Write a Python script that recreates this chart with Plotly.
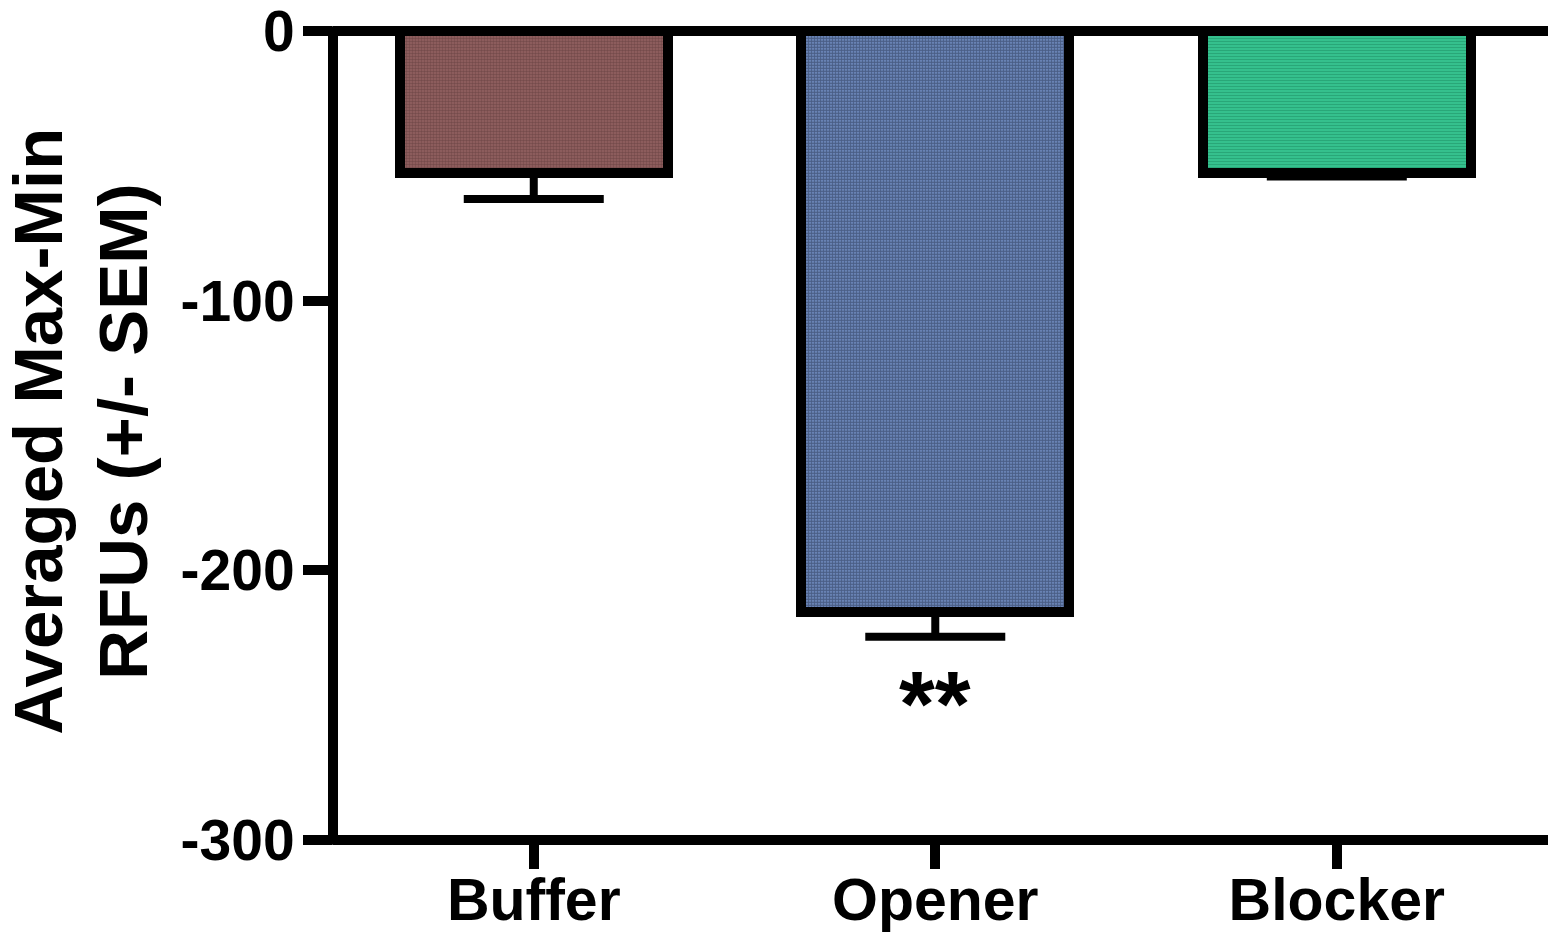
import plotly.graph_objects as go

# Group means and SEM
categories = ["Buffer", "Opener", "Blocker"]
means = [-52.5, -215.4, -52.5]
sem = [9.8, 9.2, 1.5]
significance = ["", "**", ""]

y_ticks = [0, -100, -200, -300]

FONT = "Liberation Sans, Arial, Helvetica, sans-serif"

fill_bg = ["#946262", "#7c9ad2", "#38c893"]
fill_fg = ["#553334", "#18213a", "#1a855d"]
fill_shape = [".", ".", "-"]
fill_solidity = [0.55, 0.72, 0.5]

fig = go.Figure()

for i, cat in enumerate(categories):
    fig.add_trace(go.Bar(
        x=[i],
        y=[means[i]],
        width=0.667,
        marker=dict(
            color=fill_bg[i],
            line=dict(color="black", width=10),
            pattern=dict(shape=fill_shape[i], fgcolor=fill_fg[i],
                         size=3, solidity=fill_solidity[i]),
        ),
        error_y=dict(type="data", symmetric=False,
                     array=[0], arrayminus=[sem[i]],
                     color="black", thickness=8, width=70),
        showlegend=False,
    ))

# Significance markers under the error bars
for i, s in enumerate(significance):
    if s:
        fig.add_annotation(x=i, y=means[i] - sem[i] - 25, text=s,
                           showarrow=False, xref="x", yref="y",
                           font=dict(family=FONT, size=92, color="black", weight="bold"),
                           yanchor="middle")

# Axis frame: zero baseline on top, left spine, bottom spine
AX = dict(color="black", width=10)
fig.add_shape(type="line", xref="paper", yref="paper", x0=0, x1=1, y0=1, y1=1, line=AX)
fig.add_shape(type="line", xref="paper", yref="paper", x0=0, x1=1, y0=0, y1=0, line=AX)
fig.add_shape(type="line", xref="paper", yref="paper", x0=0, x1=0,
              y0=-0.006, y1=1.006, line=AX)

# Two-line y-axis title
title_lines = ["Averaged Max-Min", "RFUs (+/- SEM)"]
title_x = [-0.2426, -0.1726]
for line, xp in zip(title_lines, title_x):
    fig.add_annotation(
        text=line, xref="paper", yref="paper", x=xp, y=0.505,
        textangle=-90, showarrow=False, xanchor="center", yanchor="middle",
        font=dict(family=FONT, size=69, color="black", weight="bold"),
    )

fig.update_layout(
    width=1548, height=933,
    margin=dict(l=333, r=0, t=31, b=93, pad=0),
    plot_bgcolor="white", paper_bgcolor="white",
    bargap=0,
    xaxis=dict(
        range=[-0.5, 2.526],
        tickmode="array", tickvals=[0, 1, 2], ticktext=categories,
        showline=False,
        ticks="outside", ticklen=28, tickwidth=10, tickcolor="black",
        tickfont=dict(family=FONT, size=59, color="black", weight="bold"),
        ticklabelstandoff=-20,
        showgrid=False, zeroline=False, fixedrange=True, automargin=False,
    ),
    yaxis=dict(
        range=[-300, 0],
        tickmode="array", tickvals=y_ticks, ticktext=[str(v) for v in y_ticks],
        showline=False,
        ticks="outside", ticklen=29, tickwidth=10, tickcolor="black",
        tickfont=dict(family=FONT, size=57, color="black", weight="bold"),
        ticklabelstandoff=-3, ticklabeloverflow="allow",
        showgrid=False, zeroline=False, fixedrange=True, automargin=False,
    ),
)

fig.write_html("out.html")
